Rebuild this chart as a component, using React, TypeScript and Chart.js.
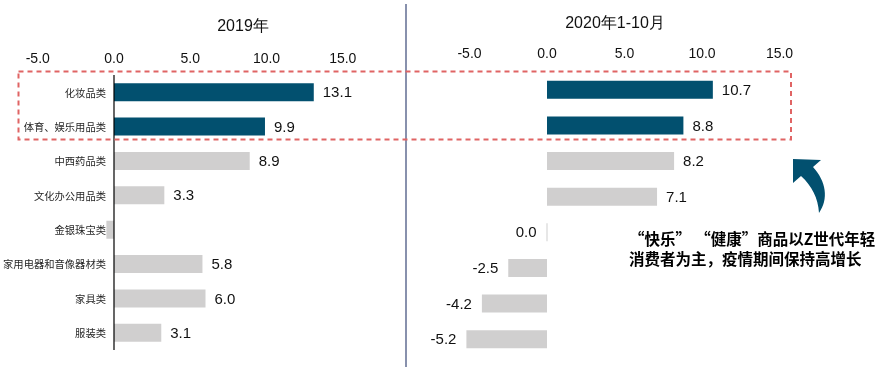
import React, { useEffect, useRef } from "react";
import { Chart, registerables } from "chart.js";

Chart.register(...registerables);

// ---------- data ----------
const categories = [
  "化妆品类",
  "体育、娱乐用品类",
  "中西药品类",
  "文化办公用品类",
  "金银珠宝类",
  "家用电器和音像器材类",
  "家具类",
  "服装类",
];
const values2019 = [13.1, 9.9, 8.9, 3.3, -0.5, 5.8, 6.0, 3.1];
const values2020 = [10.7, 8.8, 8.2, 7.1, 0.0, -2.5, -4.2, -5.2];
const showLabel2019 = [true, true, true, true, false, true, true, true];
const showLabel2020 = [true, true, true, true, true, true, true, true];
const highlighted = [true, true, false, false, false, false, false, false];
const xTicks = [-5, 0, 5, 10, 15];
const title2019 = "2019年";
const title2020 = "2020年1-10月";
const noteLine1a = "“快乐”";
const noteLine1b = "“健康”商品以Z世代年轻";
const noteLine2 = "消费者为主，疫情期间保持高增长";

const DARK = "#02506f";
const GRAY = "#d0cfcf";
const NUM_FONT = "'Liberation Sans', Arial, sans-serif";
const CJK_FONT = "'Noto Sans CJK SC', sans-serif";

const barColors = highlighted.map((h) => (h ? DARK : GRAY));

function valueLabelPlugin(shown: boolean[]) {
  return {
    id: "valueLabels",
    afterDatasetsDraw(chart: any) {
      const ctx = chart.ctx;
      const meta = chart.getDatasetMeta(0);
      const data = chart.data.datasets[0].data as number[];
      ctx.save();
      ctx.font = `15px ${NUM_FONT}`;
      ctx.fillStyle = "#111111";
      ctx.textBaseline = "middle";
      meta.data.forEach((el: any, i: number) => {
        if (!shown[i]) return;
        const v = data[i];
        const txt = v.toFixed(1);
        if (v > 0) {
          ctx.textAlign = "left";
          ctx.fillText(txt, Math.max(el.x, el.base) + 9, el.y + 1);
        } else {
          ctx.textAlign = "right";
          ctx.fillText(txt, Math.min(el.x, el.base) - 10, el.y + 1);
        }
      });
      ctx.restore();
    },
  };
}

const categoryLabelPlugin = {
  id: "categoryLabels",
  afterDatasetsDraw(chart: any) {
    const ctx = chart.ctx;
    const xs = chart.scales.x;
    const ys = chart.scales.y;
    const zero = xs.getPixelForValue(0);
    ctx.save();
    // zero axis line
    ctx.strokeStyle = "#000000";
    ctx.lineWidth = 1.2;
    ctx.beginPath();
    ctx.moveTo(zero, chart.chartArea.top);
    ctx.lineTo(zero, chart.chartArea.bottom);
    ctx.stroke();
    ctx.font = `10.3px ${CJK_FONT}`;
    ctx.fillStyle = "#262626";
    ctx.textAlign = "right";
    ctx.textBaseline = "middle";
    categories.forEach((c, i) => {
      ctx.fillText(c, zero - 8, ys.getPixelForValue(i) + 0.5);
    });
    ctx.restore();
  },
};

function makeConfig(
  values: number[],
  min: number,
  max: number,
  padding: any,
  tickPad: number,
  barPct: number,
  plugins: any[]
): any {
  return {
    type: "bar",
    data: {
      labels: categories,
      datasets: [
        {
          data: values,
          backgroundColor: barColors,
          borderWidth: 0,
          categoryPercentage: 1,
          barPercentage: barPct,
          minBarLength: 1,
        },
      ],
    },
    options: {
      indexAxis: "y",
      animation: false,
      responsive: false,
      maintainAspectRatio: false,
      layout: { padding },
      plugins: {
        legend: { display: false },
        tooltip: { enabled: false },
        title: { display: false },
      },
      scales: {
        x: {
          position: "top",
          min,
          max,
          afterBuildTicks: (scale: any) => {
            scale.ticks = xTicks.map((v) => ({ value: v }));
          },
          grid: { display: false, drawTicks: false },
          border: { display: false },
          ticks: {
            padding: tickPad,
            color: "#111111",
            font: { family: NUM_FONT, size: 14 },
            maxRotation: 0,
            callback: (v: any) => Number(v).toFixed(1),
          },
        },
        y: {
          display: false,
        },
      },
    },
    plugins,
  };
}

export default function App() {
  const leftRef = useRef<HTMLCanvasElement>(null);
  const rightRef = useRef<HTMLCanvasElement>(null);

  useEffect(() => {
    const left = new Chart(
      leftRef.current as HTMLCanvasElement,
      makeConfig(
        values2019,
        -5,
        18,
        { left: 37.75, right: 17.5, top: 44.2, bottom: 17 },
        7,
        0.524,
        [valueLabelPlugin(showLabel2019), categoryLabelPlugin]
      )
    );
    const right = new Chart(
      rightRef.current as HTMLCanvasElement,
      makeConfig(
        values2020,
        -6,
        17,
        { left: 48, right: 70.5, top: 37.2, bottom: 10 },
        9,
        0.505,
        [valueLabelPlugin(showLabel2020)]
      )
    );
    return () => {
      left.destroy();
      right.destroy();
    };
  }, []);

  return (
    <div
      style={{
        position: "absolute",
        left: 0,
        top: 0,
        width: 881,
        height: 367,
        background: "#ffffff",
        overflow: "hidden",
      }}
    >
      <canvas
        ref={leftRef}
        width={406}
        height={367}
        style={{ position: "absolute", left: 0, top: 0, width: 406, height: 367 }}
      />
      <canvas
        ref={rightRef}
        width={475}
        height={367}
        style={{ position: "absolute", left: 406, top: 0, width: 475, height: 367 }}
      />
      <svg
        width={881}
        height={367}
        style={{ position: "absolute", left: 0, top: 0, pointerEvents: "none" }}
      >
        <line x1={406} y1={4} x2={406} y2={367} stroke="#8891ad" strokeWidth={2} />
        <rect
          x={18.5}
          y={71.5}
          width={772.5}
          height={68}
          fill="none"
          stroke="#e06464"
          strokeWidth={2}
          strokeDasharray="5 4"
        />
        <path
          d="M793,159 L821,160 L813,167 C826,181 829,199 819,213 C818,198 812,186 801,176 L793,183 Z"
          fill={DARK}
        />
      </svg>
      <div
        style={{
          position: "absolute",
          left: 243,
          top: 26,
          transform: "translate(-50%, -50%)",
          font: `16px ${NUM_FONT}`,
          color: "#111",
          whiteSpace: "nowrap",
          lineHeight: 1,
        }}
      >
        {title2019}
      </div>
      <div
        style={{
          position: "absolute",
          left: 615,
          top: 23,
          transform: "translate(-50%, -50%)",
          font: `16px ${NUM_FONT}`,
          color: "#111",
          whiteSpace: "nowrap",
          lineHeight: 1,
        }}
      >
        {title2020}
      </div>
      <div
        style={{
          position: "absolute",
          left: 629,
          top: 228,
          fontFamily: CJK_FONT,
          fontSize: 15.5,
          fontWeight: 700,
          lineHeight: "20px",
          color: "#000",
          whiteSpace: "nowrap",
        }}
      >
        <div>
          {noteLine1a}
          <span style={{ marginLeft: 12 }}>{noteLine1b}</span>
        </div>
        <div>{noteLine2}</div>
      </div>
    </div>
  );
}
